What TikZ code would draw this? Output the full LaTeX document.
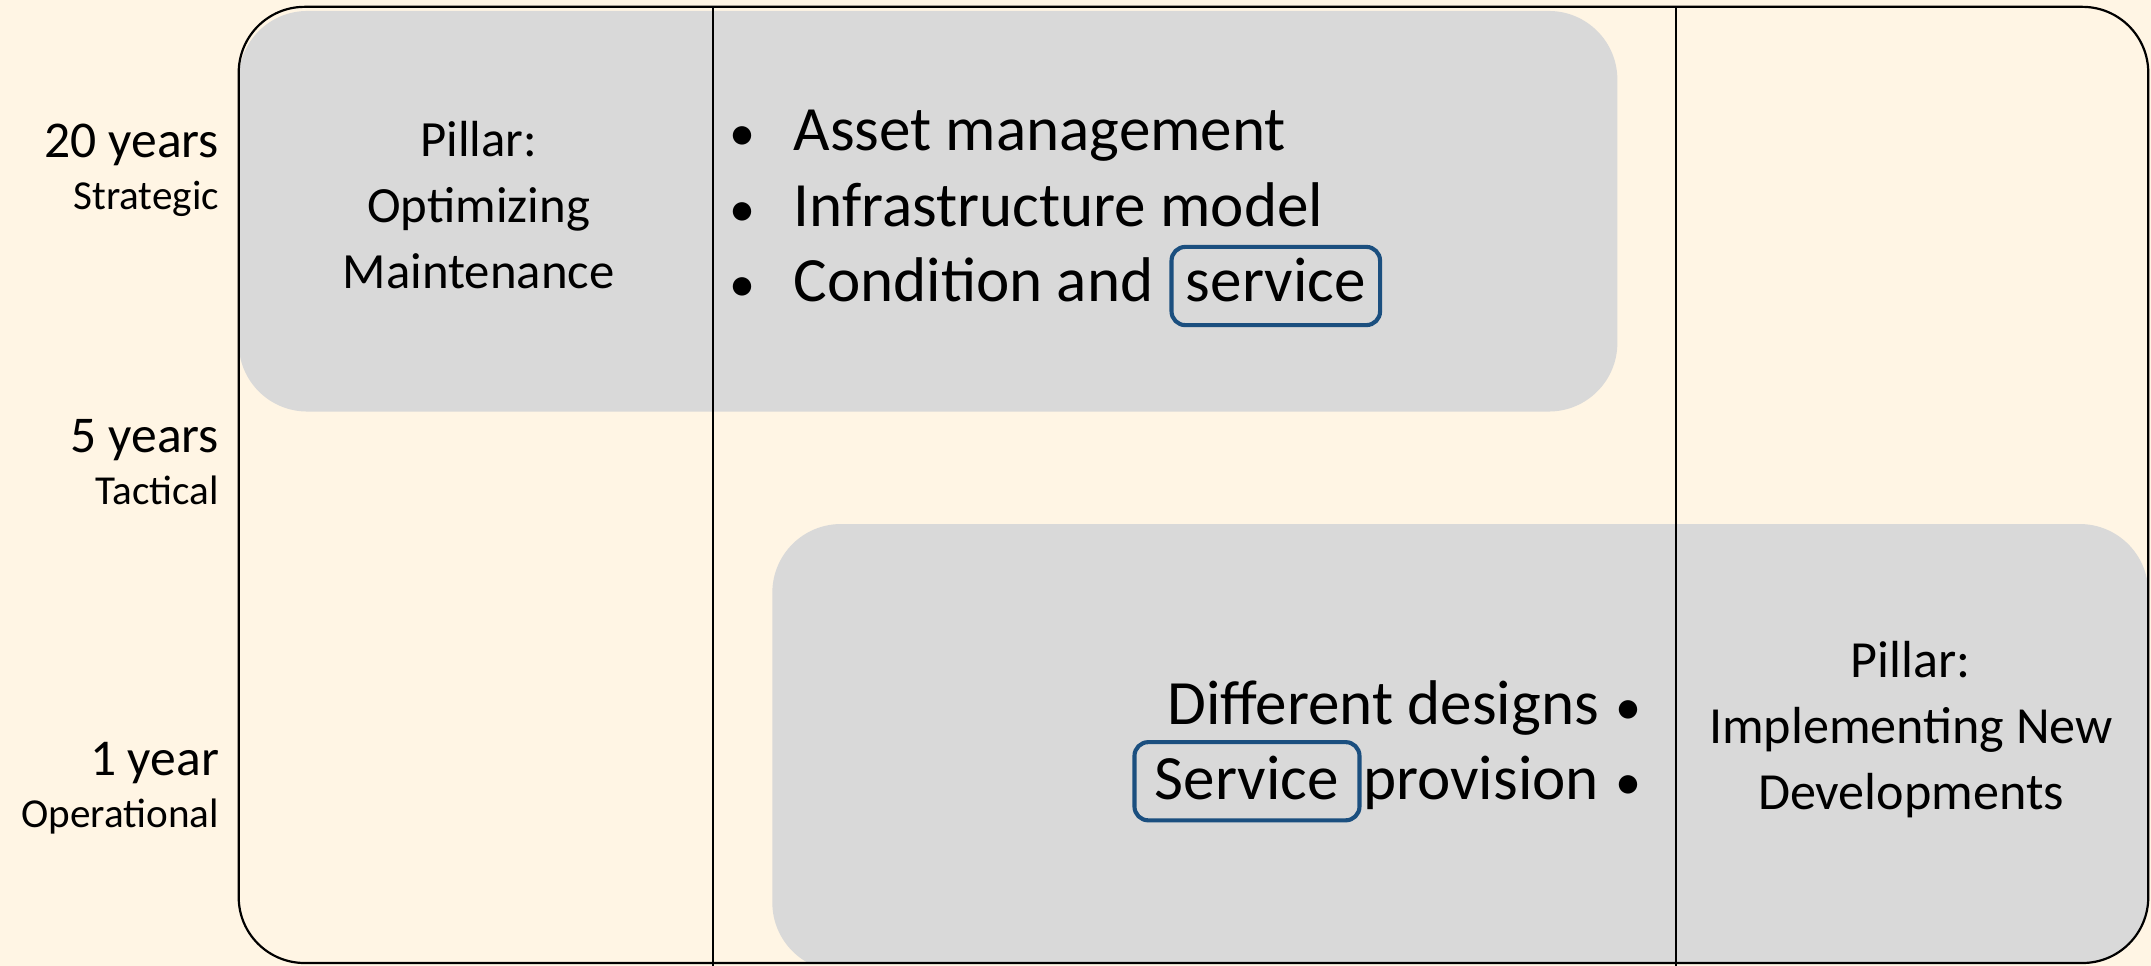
\documentclass[tikz,border=0pt]{standalone}
\usepackage{fontspec}
\setmainfont{Carlito}
\definecolor{cream}{HTML}{FFF5E4}
\definecolor{boxgray}{HTML}{D9D9D9}
\definecolor{hlblue}{HTML}{1B4F7F}
\begin{document}
\begin{tikzpicture}[x=0.5pt,y=-0.5pt,
  lbl/.style={anchor=base east,inner sep=0pt,font=\fontsize{18.8}{20}\selectfont},
  sublbl/.style={anchor=base east,inner sep=0pt,font=\fontsize{15}{16}\selectfont},
  pillar/.style={align=center,inner sep=0pt,font=\fontsize{18.5}{24}\selectfont},
  item/.style={anchor=base west,inner sep=0pt,font=\fontsize{23}{26}\selectfont},
  itemr/.style={anchor=base east,inner sep=0pt,font=\fontsize{23}{26}\selectfont},
  dot/.style={anchor=base,inner sep=0pt,font=\fontsize{19}{20}\selectfont},
  hl/.style={draw=hlblue,line width=1.5pt,rounded corners=5pt,anchor=base,inner sep=0pt,font=\fontsize{23}{26}\selectfont},
  gbox/.style={fill=boxgray,rounded corners=25pt},
  vline/.style={draw=black,line width=0.8pt}]
\fill[cream] (0,0) rectangle (1568,704);
\useasboundingbox (0,0) rectangle (1568,704);
% grey bands, kept inside the frame
\begin{scope}
\clip[rounded corners=24pt] (174,5) rectangle (1566,702);
\fill[gbox] (174,8) rectangle (1179,300);
\fill[gbox] (563,382) rectangle (1566,708);
\end{scope}
% column lines
\coordinate (c1t) at (520,5);
\coordinate (c1b) at (520,704);
\coordinate (c2t) at (1222,5);
\coordinate (c2b) at (1222,704);
\draw[vline] (c1t) -- (c1b);
\draw[vline] (c2t) -- (c2b);
% frame
\draw[line width=0.8pt,rounded corners=24pt] (174,5) rectangle (1566,702);
% row labels
\node[lbl] (y20) at (160,115) {20 years};
\node[sublbl] (s20) at (160,153) {Strategic};
\node[lbl] (y5) at (160,330) {5 years};
\node[sublbl] (s5) at (160,368) {Tactical};
\node[lbl] (y1) at (160,565) {1 year};
\node[sublbl] (s1) at (160,603) {Operational};
% pillars
\node[pillar,anchor=base] (p1) at (349,210) {Pillar:\\Optimizing\\Maintenance};
\node[pillar,anchor=base,font=\fontsize{19}{24}\selectfont] (p2) at (1393,590) {Pillar:\\Implementing New\\Developments};
% top bullets
\node[dot] (b1) at (541,110) {•};
\node[item] (t1) at (578,110) {Asset management};
\node[dot] (b2) at (541,165) {•};
\node[item] (t2) at (578,165) {Infrastructure model};
\node[dot] (b3) at (541,220) {•};
\node[item] (t3) at (578,220) {Condition and};
\node[hl,text height=20pt,text depth=8.5pt,minimum width=76pt] (h1) at (930,220) {service};
% bottom bullets
\node[dot] (b4) at (1187,528) {•};
\node[itemr] (t4) at (1166,528) {Different designs};
\node[dot] (b5) at (1187,583) {•};
\node[itemr] (t5) at (1166,583) {provision};
\node[hl,text height=21pt,text depth=7.5pt,minimum width=82pt] (h2) at (909,583) {Service};
\end{tikzpicture}
\end{document}
